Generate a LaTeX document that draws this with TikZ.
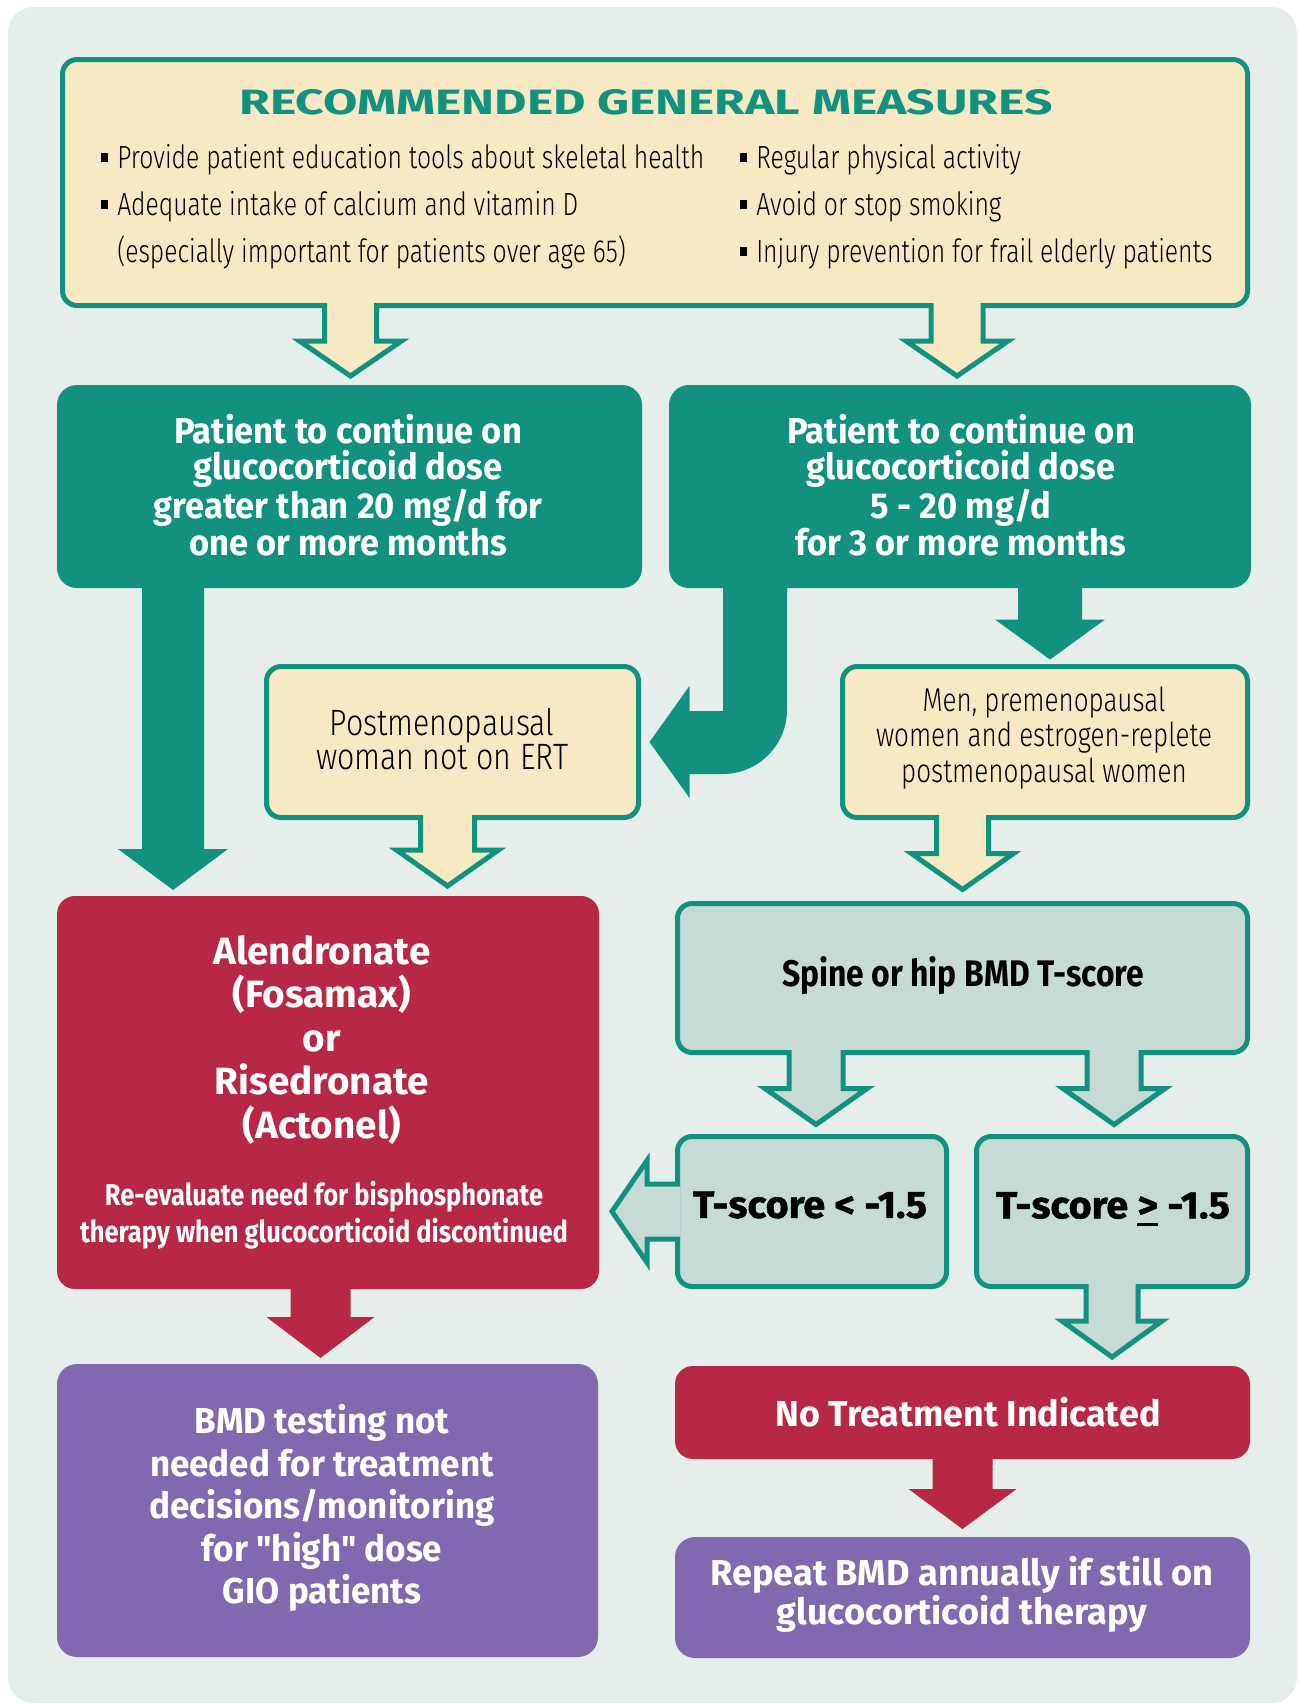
\documentclass[tikz,border=0pt]{standalone}
\usepackage{fontspec}
\usepackage{graphicx}
\setmainfont{Fira Sans}
\newfontfamily\firaheavy{Fira Sans}[BoldFeatures={FakeBold=1.2}]
\newfontfamily\firaq{Fira Sans}
\newfontfamily\firalight{Fira Sans Light}
\usetikzlibrary{calc}

\definecolor{tealc}{RGB}{18,145,126}
\definecolor{creamc}{RGB}{248,233,197}
\definecolor{bgc}{RGB}{229,238,234}
\definecolor{redc}{RGB}{182,40,70}
\definecolor{purc}{RGB}{129,105,175}
\definecolor{grayc}{RGB}{199,219,214}

\def\pxu{0.75pt}
\newsavebox\calbox
\newlength\callen
\newcommand\calib[3]{\sbox\calbox{#3}\setlength\callen{\wd\calbox}\pgfmathsetmacro\tmpratio{#2/\callen}\global\let#1\tmpratio}
\newcommand\sx[2]{\scalebox{#1}[1]{#2}}
\newcommand\bul{\rule[4.5pt]{5.25pt}{6.75pt}\hspace{6.75pt}}
\newcommand\uge{\vtop{\hbox{>}\kern3.5pt\hrule height 2.25pt}}

\newcommand\fgA{\firalight\fontsize{24pt}{35pt}\selectfont}
\newcommand\fgB{\firalight\fontsize{24.75pt}{26.5pt}\selectfont}
\newcommand\fgK{\firalight\fontsize{27.5pt}{25.5pt}\selectfont}
\newcommand\fgC{\bfseries\fontsize{27pt}{27.4pt}\selectfont}
\newcommand\fgD{\bfseries\fontsize{28.5pt}{32.6pt}\selectfont}
\newcommand\fgE{\bfseries\fontsize{22.5pt}{27.75pt}\selectfont}
\newcommand\fgF{\bfseries\fontsize{27.75pt}{30pt}\selectfont}
\newcommand\fgG{\firaheavy\bfseries\fontsize{28.5pt}{30pt}\selectfont}
\newcommand\fgH{\firaq\bfseries\fontsize{27pt}{31.9pt}\selectfont}
\newcommand\fgI{\bfseries\fontsize{27pt}{30pt}\selectfont}
\newcommand\fgJ{\bfseries\fontsize{27pt}{27.75pt}\selectfont}

% down block arrow, outlined
\newcommand\downoutl[6]{%
 \fill[#1] let \p1=#2, \p2=#3 in (\x2-#4*\pxu,\y1+2.5*\pxu) -- (\x2-#4*\pxu,\y2+#6*\pxu) -- (\x2-#5*\pxu,\y2+#6*\pxu) -- (\x2,\y2) -- (\x2+#5*\pxu,\y2+#6*\pxu) -- (\x2+#4*\pxu,\y2+#6*\pxu) -- (\x2+#4*\pxu,\y1+2.5*\pxu) -- cycle;
 \draw[tealc, line width=3.75pt] let \p1=#2, \p2=#3 in (\x2-#4*\pxu,\y1+2.5*\pxu) -- (\x2-#4*\pxu,\y2+#6*\pxu) -- (\x2-#5*\pxu,\y2+#6*\pxu) -- (\x2,\y2) -- (\x2+#5*\pxu,\y2+#6*\pxu) -- (\x2+#4*\pxu,\y2+#6*\pxu) -- (\x2+#4*\pxu,\y1+2.5*\pxu);}
% down block arrow, filled
\newcommand\downfill[6]{%
 \fill[#1] let \p1=#2, \p2=#3 in (\x2-#4*\pxu,\y1+3*\pxu) -- (\x2-#4*\pxu,\y2+#6*\pxu) -- (\x2-#5*\pxu,\y2+#6*\pxu) -- (\x2,\y2) -- (\x2+#5*\pxu,\y2+#6*\pxu) -- (\x2+#4*\pxu,\y2+#6*\pxu) -- (\x2+#4*\pxu,\y1+3*\pxu) -- cycle;}
% left block arrow, outlined
\newcommand\leftoutl[6]{%
 \fill[#1] let \p1=#2, \p2=#3 in (\x1+2.5*\pxu,\y2+#4*\pxu) -- (\x2+#6*\pxu,\y2+#4*\pxu) -- (\x2+#6*\pxu,\y2+#5*\pxu) -- (\x2,\y2) -- (\x2+#6*\pxu,\y2-#5*\pxu) -- (\x2+#6*\pxu,\y2-#4*\pxu) -- (\x1+2.5*\pxu,\y2-#4*\pxu) -- cycle;
 \draw[tealc, line width=3.75pt] let \p1=#2, \p2=#3 in (\x1+2.5*\pxu,\y2+#4*\pxu) -- (\x2+#6*\pxu,\y2+#4*\pxu) -- (\x2+#6*\pxu,\y2+#5*\pxu) -- (\x2,\y2) -- (\x2+#6*\pxu,\y2-#5*\pxu) -- (\x2+#6*\pxu,\y2-#4*\pxu) -- (\x1+2.5*\pxu,\y2-#4*\pxu);}

\tikzset{
 sz/.style 2 args={minimum width=#1*0.75pt, minimum height=#2*0.75pt, inner sep=0pt, outer sep=0pt},
 tealbox/.style={fill=tealc, rounded corners=15pt},
 creambox/.style={fill=creamc, draw=tealc, line width=3.75pt, rounded corners=11pt},
 graybox/.style={fill=grayc, draw=tealc, line width=3.75pt, rounded corners=11pt},
 redbox/.style={fill=redc, rounded corners=13.5pt},
 purbox/.style={fill=purc, rounded corners=15pt},
 txt/.style={inner sep=0pt, align=center},
 btxt/.style={inner sep=0pt, anchor=base west, font=\fgA},
}

\begin{document}
\calib\scA{440.25}{\fgA Provide patient education tools about skeletal health}%
\calib\scB{252}{\fgB women and estrogen-replete}%
\calib\scK{189}{\fgK woman not on ERT}%
\calib\scC{261}{\fgC Patient to continue on}%
\calib\scD{162.75}{\fgD Alendronate}%
\calib\scE{366}{\fgE therapy when glucocorticoid discontinued}%
\calib\scF{271.5}{\fgF Spine or hip BMD T-score}%
\calib\scG{175.5}{\fgG T-score < -1.5}%
\calib\scH{258.75}{\fgH decisions/monitoring}%
\calib\scI{288.75}{\fgI No Treatment Indicated}%
\calib\scJ{377.25}{\fgJ Repeat BMD annually if still on}%
\begin{tikzpicture}[x=0.75pt,y=-0.75pt]
\fill[white] (0,0) rectangle (1299,1704);
\useasboundingbox (0,0) rectangle (1299,1704);
\fill[bgc, rounded corners=19pt] (8,7) rectangle (1297,1703);

% boxes
\node[creambox, sz={1185}{246}] (top) at (655,182.5) {};
\node[tealbox, sz={585}{203}] (tealL) at (349.5,486.5) {};
\node[tealbox, sz={582}{203}] (tealR) at (960,486.5) {};
\node[creambox, sz={372}{151}] (post) at (452.5,742) {};
\node[creambox, sz={405}{151}] (men) at (1045,742) {};
\node[redbox, sz={542}{393}] (red) at (328,1092.5) {};
\node[graybox, sz={570}{149}] (spine) at (962.5,978) {};
\node[graybox, sz={269}{150}] (tl) at (812,1211.5) {};
\node[graybox, sz={271}{150}] (tg) at (1112,1211.5) {};
\node[purbox, sz={541}{293}] (bmd) at (327.5,1510.5) {};
\node[redbox, sz={575}{93}] (not) at (962.5,1412.5) {};
\node[purbox, sz={575}{121}] (rep) at (962.5,1597.5) {};

% connectors
\downoutl{creamc}{(top.south -| tealL.north)}{($(tealL.north)+(1,-9)$)}{26}{51}{35}
\downoutl{creamc}{(top.south -| tealR.north)}{($(tealR.north)+(-3,-9)$)}{26}{51}{35}
\downfill{tealc}{($(tealL.south west)+(116,0)$)}{($(red.north west)+(116,-6)$)}{31}{55}{41}
\downfill{tealc}{(tealR.south -| men.north)}{($(men.north)+(5,-7)$)}{32}{55}{40}
\coordinate (cS) at ($(tealR.south west)+(86,0)$);
\coordinate (cT) at ($(post.east)+(11,0)$);
\fill[tealc] ($(cS)+(-32,-4)$) -- ($(cS |- cT)+(-32,-31)$) -- ($(cT)+(40,-31)$) -- ($(cT)+(40,-56)$) -- (cT) -- ($(cT)+(40,56)$) -- ($(cT)+(40,32)$) -- ($(cS |- cT)+(-32,32)$) .. controls ($(cS |- cT)+(3,32)$) and ($(cS |- cT)+(32,3)$) .. ($(cS |- cT)+(32,-32)$) -- ($(cS)+(32,-4)$) -- cycle;
\downoutl{creamc}{(post.south)}{($(post.south |- red.north)+(-5,-10)$)}{27}{51}{36}
\downoutl{creamc}{(men.south)}{($(spine.north)+(0,-14)$)}{26}{51}{36}
\downoutl{grayc}{(spine.south -| tl.north)}{($(tl.north)+(4,-12)$)}{27}{51}{36}
\downoutl{grayc}{(spine.south -| tg.north)}{($(tg.north)+(2,-12)$)}{27}{51}{36}
\leftoutl{grayc}{(tl.west)}{($(red.east |- tl.west)+(13,0)$)}{27.5}{51}{35}
\downoutl{grayc}{(tg.south)}{($(tg.south |- not.north)+(0,-9)$)}{26}{50}{36}
\downfill{redc}{($(red.south)+(-8,0)$)}{($(bmd.north)+(-7,-6)$)}{30}{54}{41}
\downfill{redc}{(not.south)}{($(rep.north)+(0,-8)$)}{30}{54}{40}

% texts
\node[inner sep=0pt, text=tealc] (title) at (646,102) {\resizebox{609.75pt}{18.75pt}{\bfseries RECOMMENDED GENERAL MEASURES}};
\node[btxt] (b1) at (101,168) {\bul\sx\scA{Provide patient education tools about skeletal health}};
\node[btxt] (b2) at (101,215) {\bul\sx\scA{Adequate intake of calcium and vitamin D}};
\node[btxt] (b3) at (117,262) {\sx\scA{(especially important for patients over age 65)}};
\node[btxt] (b4) at (740,168) {\bul\sx\scA{Regular physical activity}};
\node[btxt] (b5) at (740,215) {\bul\sx\scA{Avoid or stop smoking}};
\node[btxt] (b6) at (740,262) {\bul\sx\scA{Injury prevention for frail elderly patients}};

\node[txt, text=white, font=\fgC] (tLtxt) at (348,485) {\sx\scC{Patient to continue on}\\ \sx\scC{glucocorticoid dose}\\ \sx\scC{greater than 20 mg/d for}\\ \sx\scC{one or more months}};
\node[txt, text=white, font=\fgC] (tRtxt) at (961,485) {\sx\scC{Patient to continue on}\\ \sx\scC{glucocorticoid dose}\\ \sx\scC{5 - 20 mg/d}\\ \sx\scC{for 3 or more months}};
\node[txt, font=\fgK] (posttxt) at (442,739) {\sx\scK{Postmenopausal}\\ \sx\scK{woman not on ERT}};
\node[txt, font=\fgB] (mentxt) at (1044,738) {\sx\scB{Men, premenopausal}\\ \sx\scB{women and estrogen-replete}\\ \sx\scB{postmenopausal women}};
\node[txt, text=white, font=\fgD] (alentxt) at (322,1040) {\sx\scD{Alendronate}\\ \sx\scD{(Fosamax)}\\ \sx\scD{or}\\ \sx\scD{Risedronate}\\ \sx\scD{(Actonel)}};
\node[txt, text=white, font=\fgE] (reevtxt) at (324,1215) {\sx\scE{Re-evaluate need for bisphosphonate}\\ \sx\scE{therapy when glucocorticoid discontinued}};
\node[txt, font=\fgF] (spinetxt) at (963,976) {\sx\scF{Spine or hip BMD T-score}};
\node[txt, font=\fgG] (tltxt) at (810,1205) {\sx\scG{T-score < -1.5}};
\node[txt, font=\fgG] (tgtxt) at (1113,1209) {\sx\scG{T-score \uge{} -1.5}};
\node[txt, text=white, font=\fgH] (bmdtxt) at (322,1508) {\sx\scH{BMD testing not}\\ \sx\scH{needed for treatment}\\ \sx\scH{decisions/monitoring}\\ \sx\scH{for "high" dose}\\ \sx\scH{GIO patients}};
\node[txt, text=white, font=\fgI] (nottxt) at (968,1412) {\sx\scI{No Treatment Indicated}};
\node[txt, text=white, font=\fgJ] (reptxt) at (962,1594.5) {\sx\scJ{Repeat BMD annually if still on}\\ \sx\scJ{glucocorticoid therapy}};
\end{tikzpicture}
\end{document}
